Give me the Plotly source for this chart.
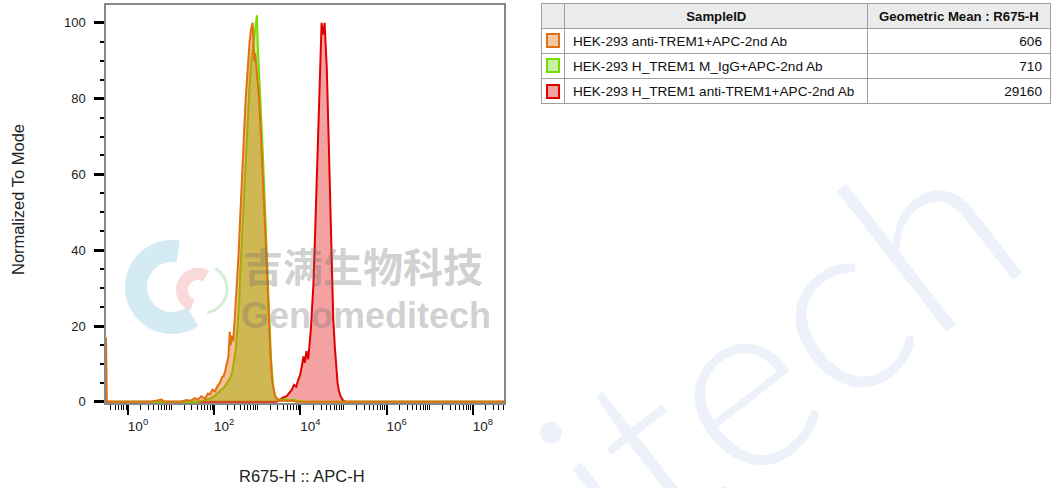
import numpy as np
import plotly.graph_objects as go

# ---------------- data ----------------
sample_ids = [
    "HEK-293 anti-TREM1+APC-2nd Ab",
    "HEK-293 H_TREM1 M_IgG+APC-2nd Ab",
    "HEK-293 H_TREM1 anti-TREM1+APC-2nd Ab",
]
geo_means = ["606", "710", "29160"]

# histogram outlines: log10(R675-H) and normalized-to-mode count
orange_log = [-0.51, -0.49, 0.5, 0.78, 0.85, 1.2, 1.35, 1.45, 1.55, 1.62, 1.70, 1.79, 1.85, 1.90,
              1.96, 2.02, 2.08, 2.13, 2.18, 2.22, 2.25, 2.30, 2.33, 2.36, 2.38, 2.41, 2.44, 2.47,
              2.50, 2.53, 2.56, 2.60, 2.63, 2.66, 2.70, 2.73, 2.76, 2.79, 2.82, 2.85, 2.87, 2.89,
              2.91, 2.93, 2.95, 2.98, 3.01, 3.04, 3.08, 3.12, 3.16, 3.19, 3.22, 3.25, 3.28, 3.31,
              3.35, 3.38, 3.41, 3.45, 3.49, 3.55, 3.62, 3.70, 3.80, 3.90, 8.72]
orange_val = [17, 0, 0, 0.6, 0, 0, 0.5, 0.3, 1.0, 0.6, 1.5, 0.8, 2.2, 2.0,
              3.2, 2.8, 4.3, 5.0, 6.5, 6.8, 8.0, 11, 12, 18.5, 15, 17.5, 16, 21,
              26, 32, 38, 48, 57, 66, 73, 80, 86, 92, 95, 98, 99, 100,
              95, 90, 92, 88, 86, 80, 71, 62, 53, 44, 36, 27, 18, 11,
              5, 3, 1.5, 1.0, 0.5, 0.3, 0.6, 0.2, 0.4, 0, 0]

green_log = [-0.51, 1.6, 1.75, 1.9, 2.0, 2.1, 2.2, 2.27, 2.33, 2.38, 2.42, 2.46, 2.50, 2.54,
             2.58, 2.62, 2.66, 2.70, 2.74, 2.78, 2.82, 2.86, 2.90, 2.94, 2.97, 2.99, 3.01,
             3.03, 3.06, 3.09, 3.13, 3.17, 3.20, 3.23, 3.26, 3.29, 3.32, 3.36, 3.40, 3.45,
             3.55, 3.65, 3.75, 3.85, 3.95, 4.1, 8.72]
green_val = [0, 0, 0.4, 0.8, 1.5, 2.5, 3.5, 4.5, 5.5, 6.5, 8, 11, 14, 20,
             27, 38, 48, 58, 68, 78, 84, 90, 94, 97, 100, 102, 94,
             88, 82, 75, 65, 55, 45, 36, 27, 18, 11, 5, 2, 0.8,
             0.5, 0.8, 0.3, 0.6, 0.2, 0, 0]

red_log = [-0.51, 3.45, 3.53, 3.60, 3.68, 3.74, 3.80, 3.85, 3.90, 3.95, 3.99, 4.03, 4.07, 4.10,
           4.14, 4.18, 4.21, 4.24, 4.27, 4.30, 4.33, 4.36, 4.39, 4.42, 4.45, 4.47, 4.49, 4.51,
           4.53, 4.56, 4.58, 4.61, 4.65, 4.69, 4.72, 4.76, 4.80, 4.83, 4.86, 4.89, 4.93, 4.98,
           5.04, 8.72]
red_val = [0, 0, 0.6, 1.2, 1.5, 2.5, 3.2, 4.5, 4.0, 5.9, 7, 9.4, 12, 10.3,
           13.4, 11.2, 15, 19, 25, 31, 41, 53, 62, 71, 88, 96, 100, 98,
           97, 100, 96, 88, 71, 53, 36, 22, 14, 9, 5, 3, 1.5, 0.5,
           0, 0]

x_label_exponents = [0, 2, 4, 6, 8]
x_odd_exponents = [1, 3, 5, 7]
y_tick_values = [0, 20, 40, 60, 80, 100]

# ---------------- styling ----------------
W, H = 1051, 488
L, R, T, B = 106, 504, 5, 403  # plot area in px
FONT = "Liberation Sans, Arial, sans-serif"

line_colors = ["#e07010", "#77dd00", "#e00000"]
fill_colors = ["rgba(224,112,16,0.45)", "rgba(119,221,0,0.45)", "rgba(224,0,0,0.37)"]
swatch_fill = ["#f2c9a2", "#c9f0a2", "#f0a2a2"]


def px_to_paper(px, py):
    return px / W, 1 - py / H


fig = go.Figure()

series = [
    (red_log, red_val, 2),
    (green_log, green_val, 1),
    (orange_log, orange_val, 0),
]
for lg, val, idx in series:
    fig.add_trace(go.Scatter(
        x=[10 ** v for v in lg], y=val, mode="lines", name=sample_ids[idx],
        line=dict(color=line_colors[idx], width=2), fill="tozeroy",
        fillcolor=fill_colors[idx], showlegend=False, cliponaxis=True,
    ))

# table
fig.add_trace(go.Table(
    domain=dict(x=[541 / W, 1.0], y=[0.5, 1 - 3 / H]),
    columnwidth=[24, 304, 183],
    header=dict(
        values=["", "SampleID", "Geometric Mean : R675-H"],
        fill_color="#ebebeb", line=dict(color="#a0a0a0", width=1),
        align=["center", "center", "center"],
        font=dict(family=FONT, size=13.2, color="#111", weight="bold"), height=25,
    ),
    cells=dict(
        values=[["", "", ""], sample_ids, geo_means],
        fill_color="white", line=dict(color="#a0a0a0", width=1),
        align=["center", "left", "right"],
        font=dict(family=FONT, size=13.6, color="#111"), height=25,
    ),
))

annotations = []
# legend swatches in table
for i, yc in enumerate([41, 66, 91]):
    xp, yp = px_to_paper(553, yc)
    annotations.append(dict(
        x=xp, y=yp, xref="paper", yref="paper", xanchor="center", yanchor="middle",
        text=" ", showarrow=False,
        width=10, height=11, bgcolor=swatch_fill[i], bordercolor=line_colors[i],
        borderwidth=2, borderpad=0,
    ))

# axis titles
xp, yp = px_to_paper(302, 476)
annotations.append(dict(
    x=xp, y=yp, xref="paper", yref="paper", xanchor="center", yanchor="middle",
    text="R675-H :: APC-H", showarrow=False, font=dict(family=FONT, size=16.5, color="#222"),
))
xp, yp = px_to_paper(18, 200)
annotations.append(dict(
    x=xp, y=yp, xref="paper", yref="paper", xanchor="center", yanchor="middle",
    text="Normalized To Mode", showarrow=False, textangle=-90,
    font=dict(family=FONT, size=16.5, color="#222"),
))

# watermark texts
xp, yp = px_to_paper(775, 345)
annotations.append(dict(
    x=xp, y=yp, xref="paper", yref="paper", xanchor="center", yanchor="middle",
    text="itech", showarrow=False, textangle=-38,
    font=dict(family="Lato, DejaVu Sans", size=245, weight=300, color="#edf1f9"),
))
xp, yp = px_to_paper(363, 265)
annotations.append(dict(
    x=xp, y=yp, xref="paper", yref="paper", xanchor="center", yanchor="middle",
    text="<b>吉满生物科技</b>", showarrow=False,
    font=dict(family="Noto Sans CJK SC", size=40, color="rgba(110,110,110,0.32)"),
))
xp, yp = px_to_paper(366, 315)
annotations.append(dict(
    x=xp, y=yp, xref="paper", yref="paper", xanchor="center", yanchor="middle",
    text="<b>Genomeditech</b>", showarrow=False,
    font=dict(family=FONT, size=36, color="rgba(110,110,110,0.32)"),
))


def arc_path(cx, cy, r, a0, a1, n=40):
    angs = np.radians(np.linspace(a0, a1, n))
    pts = [px_to_paper(cx + r * np.cos(a), cy - r * np.sin(a)) for a in angs]
    return "M " + " L ".join(f"{x:.4f},{y:.4f}" for x, y in pts)


shapes = [
    dict(type="path", xref="paper", yref="paper", path=arc_path(172, 287, 36, 80, 305),
         line=dict(color="rgba(170,215,232,0.5)", width=22)),
    dict(type="path", xref="paper", yref="paper", path=arc_path(198, 290, 16, 60, 250),
         line=dict(color="rgba(240,160,160,0.4)", width=12)),
    dict(type="path", xref="paper", yref="paper", path=arc_path(203, 289, 24, -80, 60),
         line=dict(color="rgba(170,220,170,0.5)", width=3)),
]

fig.update_layout(
    width=W, height=H,
    margin=dict(l=0, r=0, t=0, b=0, pad=0),
    paper_bgcolor="white", plot_bgcolor="white",
    font=dict(family=FONT, size=13, color="#222"),
    annotations=annotations, shapes=shapes,
    xaxis=dict(domain=[L / W, R / W], anchor="y"),
    yaxis=dict(domain=[1 - B / H, 1 - T / H], anchor="x"),
    xaxis2=dict(domain=[L / W, R / W], anchor="y", overlaying="x"),
)
axis_common = dict(showgrid=False, zeroline=False, automargin=False)
fig.update_layout(
    xaxis=dict(
        type="log", range=[-0.51, 8.72],
        tickvals=[10 ** e for e in x_label_exponents],
        ticktext=[f"10<sup>{e}</sup>" for e in x_label_exponents],
        ticks="outside", ticklen=10, tickwidth=2, tickcolor="black", ticklabelshift=10,
        minor=dict(ticks="outside", ticklen=5, tickwidth=1, tickcolor="black", dtick="D1", showgrid=False),
        showline=True, linecolor="#888", linewidth=1.5, mirror=True,
        tickfont=dict(size=13.5, color="#222"), **axis_common,
    ),
    xaxis2=dict(
        type="log", range=[-0.51, 8.72], tickvals=[10 ** e for e in x_odd_exponents],
        showticklabels=False, ticks="outside", ticklen=10, tickwidth=2, tickcolor="black",
        showline=False, side="bottom", **axis_common,
    ),
    yaxis=dict(
        range=[-0.3, 104.7], tickvals=y_tick_values,
        ticks="outside", ticklen=10, tickwidth=2.5, tickcolor="black", ticklabelstandoff=6,
        minor=dict(ticks="outside", ticklen=4, tickwidth=1.5, tickcolor="black", dtick=5, showgrid=False),
        showline=True, linecolor="#888", linewidth=1.5, mirror=True,
        tickfont=dict(size=13, color="#222"), **axis_common,
    ),
)

fig.write_html(
    "out.html",
    config={"displayModeBar": False},
    post_script="document.body.style.margin='0';document.body.style.padding='0';",
)
